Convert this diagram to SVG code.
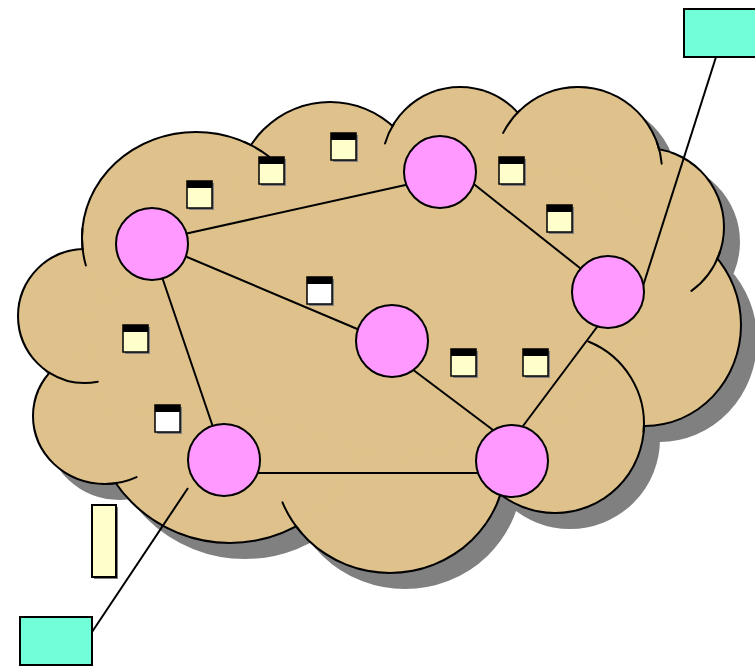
<svg xmlns="http://www.w3.org/2000/svg" xmlns:xlink="http://www.w3.org/1999/xlink" width="755" height="666" viewBox="0 0 755 666">
  <style>
    .lobe-shadow { fill: #808080; stroke: #808080; stroke-width: 4; }
    .lobe-edge { fill: #DFC28B; stroke: #000; stroke-width: 4; }
    .lobe-fill { fill: #DFC28B; stroke: none; }
    .seam { fill: none; stroke: #000; stroke-width: 2; stroke-linecap: round; }
    .link { stroke: #000; stroke-width: 2; fill: none; }
    .router { fill: #FF99FF; stroke: #000; stroke-width: 2; }
    .host { fill: #70FFD8; stroke: #000; stroke-width: 2; }
    .doc-shadow { fill: #808080; }
    .doc-body { stroke: #000; stroke-width: 1.5; }
    .doc-y { fill: #FFFFCC; }
    .doc-w { fill: #FFFFFF; }
    .doc-bar { fill: #000; }
  </style>
  <defs>
    <!-- cloud lobes: the union of these shapes forms the cloud -->
    <g id="lobes">
      <circle cx="85" cy="316" r="66"/>
      <ellipse cx="196" cy="238" rx="113" ry="105"/>
      <circle cx="330" cy="196" r="93"/>
      <circle cx="460" cy="165" r="77"/>
      <circle cx="578" cy="171" r="83"/>
      <circle cx="645" cy="227" r="78"/>
      <ellipse cx="645" cy="325" rx="95" ry="100"/>
      <circle cx="555" cy="424" r="88"/>
      <ellipse cx="390" cy="460" rx="115" ry="112"/>
      <circle cx="230" cy="404" r="138"/>
      <ellipse cx="105" cy="416" rx="71" ry="67"/>
    </g>
    <polygon id="core" points="85,316 196,238 330,196 460,165 578,171 645,227 645,325 555,424 390,460 230,404 105,416"/>
    <g id="doc-frame">
      <rect class="doc-shadow" x="2" y="2" width="25" height="27"/>
    </g>
  </defs>

  <!-- cloud -->
  <g id="cloud">
    <g transform="translate(15,15)">
      <use xlink:href="#lobes" class="lobe-shadow"/>
      <use xlink:href="#core" class="lobe-shadow"/>
    </g>
    <use xlink:href="#lobes" class="lobe-edge"/>
    <use xlink:href="#lobes" class="lobe-fill"/>
    <use xlink:href="#core" class="lobe-fill"/>
    <!-- inner seams where lobes overlap -->
    <path class="seam" d="M49.50 372.82 A67 67 0 0 0 97.78 381.77"/>
    <path class="seam" d="M82.43 228.76 A114 106 0 0 0 85.88 265.44"/>
    <path class="seam" d="M244.18 141.93 A114 106 0 0 1 269.28 156.80"/>
    <path class="seam" d="M393.86 123.67 A78 78 0 0 0 385.02 143.50"/>
    <path class="seam" d="M519.65 110.58 A84 84 0 0 0 503.16 132.86"/>
    <path class="seam" d="M656.93 142.27 A84 84 0 0 1 661.68 163.68"/>
    <path class="seam" d="M720.13 251.41 A79 79 0 0 1 691.44 290.91"/>
    <path class="seam" d="M588.34 341.48 A89 89 0 0 1 643.66 431.76"/>
    <path class="seam" d="M301.14 532.64 A116 113 0 0 1 282.45 502.33"/>
    <path class="seam" d="M102.49 483.96 A72 68 0 0 0 136.56 477.12"/>
  </g>

  <!-- small document icons -->
  <g id="doc1" transform="translate(187,181)"><use xlink:href="#doc-frame"/><rect class="doc-body doc-y" x="0" y="0" width="25" height="27"/><rect class="doc-bar" x="0" y="0" width="25" height="7"/></g>
  <g id="doc2" transform="translate(259,157)"><use xlink:href="#doc-frame"/><rect class="doc-body doc-y" x="0" y="0" width="25" height="27"/><rect class="doc-bar" x="0" y="0" width="25" height="7"/></g>
  <g id="doc3" transform="translate(331,133)"><use xlink:href="#doc-frame"/><rect class="doc-body doc-y" x="0" y="0" width="25" height="27"/><rect class="doc-bar" x="0" y="0" width="25" height="7"/></g>
  <g id="doc4" transform="translate(499,157)"><use xlink:href="#doc-frame"/><rect class="doc-body doc-y" x="0" y="0" width="25" height="27"/><rect class="doc-bar" x="0" y="0" width="25" height="7"/></g>
  <g id="doc5" transform="translate(547,205)"><use xlink:href="#doc-frame"/><rect class="doc-body doc-y" x="0" y="0" width="25" height="27"/><rect class="doc-bar" x="0" y="0" width="25" height="7"/></g>
  <g id="doc6" transform="translate(307,277)"><use xlink:href="#doc-frame"/><rect class="doc-body doc-w" x="0" y="0" width="25" height="27"/><rect class="doc-bar" x="0" y="0" width="25" height="7"/></g>
  <g id="doc7" transform="translate(123,325)"><use xlink:href="#doc-frame"/><rect class="doc-body doc-y" x="0" y="0" width="25" height="27"/><rect class="doc-bar" x="0" y="0" width="25" height="7"/></g>
  <g id="doc8" transform="translate(155,405)"><use xlink:href="#doc-frame"/><rect class="doc-body doc-w" x="0" y="0" width="25" height="27"/><rect class="doc-bar" x="0" y="0" width="25" height="7"/></g>
  <g id="doc9" transform="translate(451,349)"><use xlink:href="#doc-frame"/><rect class="doc-body doc-y" x="0" y="0" width="25" height="27"/><rect class="doc-bar" x="0" y="0" width="25" height="7"/></g>
  <g id="doc10" transform="translate(523,349)"><use xlink:href="#doc-frame"/><rect class="doc-body doc-y" x="0" y="0" width="25" height="27"/><rect class="doc-bar" x="0" y="0" width="25" height="7"/></g>

  <!-- links -->
  <g id="links">
    <line class="link" x1="180" y1="235" x2="410" y2="184"/>
    <line class="link" x1="470" y1="181" x2="585" y2="272"/>
    <line class="link" x1="180" y1="254" x2="362" y2="331"/>
    <line class="link" x1="161" y1="274" x2="215" y2="433"/>
    <line class="link" x1="408" y1="366" x2="497" y2="433"/>
    <line class="link" x1="600" y1="323" x2="520" y2="430"/>
    <line class="link" x1="255" y1="473" x2="481" y2="473"/>
    <line class="link" x1="716" y1="57" x2="643" y2="286"/>
    <line class="link" x1="92" y1="632" x2="188" y2="488"/>
  </g>

  <!-- routers -->
  <g id="router1"><circle class="router" cx="152" cy="244" r="36"/></g>
  <g id="router2"><circle class="router" cx="440" cy="172" r="36"/></g>
  <g id="router3"><circle class="router" cx="608" cy="292" r="36"/></g>
  <g id="router4"><circle class="router" cx="392" cy="341" r="36"/></g>
  <g id="router5"><circle class="router" cx="224" cy="460" r="36"/></g>
  <g id="router6"><circle class="router" cx="512" cy="461" r="36"/></g>

  <!-- hosts -->
  <g id="host-top"><rect class="host" x="684" y="9" width="72" height="48"/></g>
  <g id="host-bottom"><rect class="host" x="20" y="617" width="72" height="48"/></g>

  <!-- tall note -->
  <g id="note">
    <rect class="doc-shadow" x="94" y="507" width="24" height="72"/>
    <rect x="92" y="505" width="24" height="72" fill="#FFFFCC" stroke="#000" stroke-width="2"/>
  </g>
</svg>
